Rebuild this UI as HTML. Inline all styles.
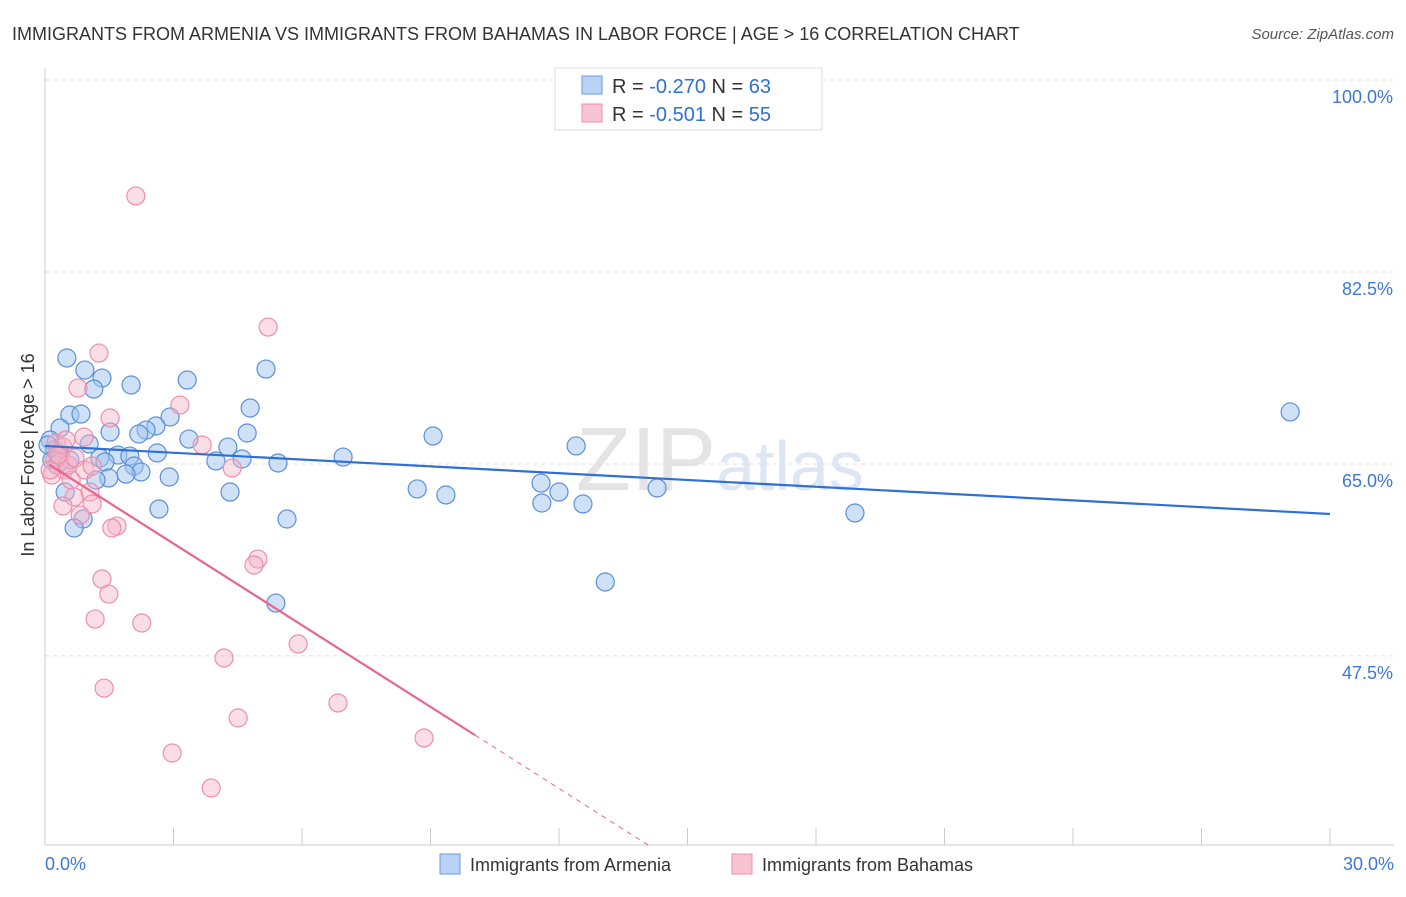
<!DOCTYPE html>
<html><head><meta charset="utf-8"><style>
body{margin:0;background:#fff;font-family:"Liberation Sans",sans-serif;}
svg text{font-family:"Liberation Sans",sans-serif;}
</style></head><body>
<svg id="chart" width="1406" height="892">
<text x="12" y="40" font-size="18" fill="#333">IMMIGRANTS FROM ARMENIA VS IMMIGRANTS FROM BAHAMAS IN LABOR FORCE | AGE &gt; 16 CORRELATION CHART</text>
<text x="1394" y="39" font-size="15" fill="#555" text-anchor="end" font-style="italic">Source: ZipAtlas.com</text>
<text x="720" y="490" font-size="90" fill="#e4e4e4" text-anchor="middle" font-family="Liberation Serif">ZIP<tspan fill="#dce6f4" font-family="Liberation Sans" font-size="70">atlas</tspan></text>
<g id="grid"></g>
<g id="axes"></g>
<g id="points"></g>
<g id="lines"></g>
<text transform="translate(34,455) rotate(-90)" font-size="18" fill="#333" text-anchor="middle">In Labor Force | Age &gt; 16</text>
<g>
<rect x="555" y="68" width="267" height="62" fill="#fff" stroke="#ddd"/>
<rect x="582" y="76" width="20" height="18" fill="#b8d3f5" stroke="#6a9be0"/>
<rect x="582" y="104" width="20" height="18" fill="#f8c4d3" stroke="#ec90ab"/>
<text x="612" y="93" font-size="20" fill="#333">R = <tspan fill="#2f6fd6">-0.270</tspan>   N = <tspan fill="#2f6fd6">63</tspan></text>
<text x="612" y="121" font-size="20" fill="#333">R = <tspan fill="#2f6fd6">-0.501</tspan>   N = <tspan fill="#2f6fd6">55</tspan></text>
</g>
<g>
<rect x="440" y="854" width="20" height="20" fill="#b8d3f5" stroke="#6a9be0"/>
<text x="470" y="871" font-size="18" fill="#333">Immigrants from Armenia</text>
<rect x="732" y="854" width="20" height="20" fill="#f8c4d3" stroke="#ec90ab"/>
<text x="762" y="871" font-size="18" fill="#333">Immigrants from Bahamas</text>
</g>
</svg>
<script>
const yTicks=[100,82.5,65,47.5];
const yTickLabels=["100.0%","82.5%","65.0%","47.5%"];
const xLabels=["0.0%","30.0%"];
const armeniaX=[0.51,0.93,1.33,1.14,2.01,3.32,5.16,0.58,0.84,0.35,4.79,2.92,2.59,2.36,2.19,1.52,3.36,4.27,4.72,1.03,1.28,1.70,1.98,2.62,3.99,4.60,5.44,6.96,9.06,12.40,1.40,2.08,2.24,1.89,2.90,1.49,1.19,0.47,4.32,8.69,9.36,11.58,12.00,11.60,12.56,14.29,18.91,29.07,2.66,0.89,5.65,0.68,13.08,5.39,0.12,0.23,0.16,0.35,0.07,0.28,0.58];
const armeniaY=[74.66,73.56,72.83,71.83,72.20,72.65,73.65,69.46,69.55,68.28,70.10,69.28,68.46,68.09,67.73,67.91,67.27,66.54,67.82,66.82,65.54,65.81,65.72,66.00,65.27,65.45,65.09,65.63,67.55,66.64,65.18,64.81,64.27,64.08,63.81,63.72,63.54,62.44,62.44,62.72,62.17,63.26,62.44,61.44,61.35,62.81,60.53,69.74,60.89,59.98,59.98,59.16,54.24,52.32,67.18,66.27,65.36,65.81,66.73,64.90,65.36];
const bahamasX=[2.12,5.21,1.26,0.77,3.15,1.52,3.67,4.37,0.26,0.42,0.91,0.44,0.16,0.61,1.05,0.68,1.10,0.42,0.82,1.68,1.56,1.33,1.49,1.17,2.26,4.97,4.88,4.18,5.91,1.38,4.51,6.84,2.97,8.85,3.88,0.23,0.35,0.54,0.12,0.30,0.70,0.93,0.49,1.10];
const bahamasY=[89.43,77.48,75.11,71.92,70.37,69.19,66.73,64.63,66.91,66.54,67.45,64.45,63.99,63.54,62.44,61.99,61.35,61.17,60.34,59.34,59.16,54.51,53.14,50.86,50.50,56.33,55.79,47.31,48.59,44.57,41.84,43.21,38.65,40.02,35.46,65.36,65.18,64.90,64.45,65.81,65.54,64.45,67.18,64.81];
const armeniaTrend=[66.64,60.44];
const bahamasTrend=[65.18,-2.48];
const xMax=30, yMin=30.26;
const NS="http://www.w3.org/2000/svg";
const sx=v=>45+v/xMax*1285;
const sy=v=>80+(100-v)*10.97;
function mk(tag,attrs,parent){const e=document.createElementNS(NS,tag);for(const k in attrs)e.setAttribute(k,attrs[k]);parent.appendChild(e);return e;}
const grid=document.getElementById('grid'),axes=document.getElementById('axes'),pts=document.getElementById('points'),lines=document.getElementById('lines');
yTicks.forEach((t,i)=>{
 const l=mk('line',{x1:45,x2:1394,y1:sy(t),y2:sy(t),stroke:'#ddd','stroke-dasharray':'4,4'},grid);
 
 
 const tx=mk('text',{x:1393,y:sy(t)+23,'font-size':18,fill:'#3b78d8','text-anchor':'end'},axes);
 tx.textContent=yTickLabels[i];
 
 
});
const ax=mk('line',{x1:45,x2:45,y1:68,y2:845,stroke:'#ccc'},axes);


const bx=mk('line',{x1:45,x2:1394,y1:845,y2:845,stroke:'#ccc'},axes);


for(let i=0;i<=10;i++){
 const t=mk('line',{x1:sx(i*3),x2:sx(i*3),y1:828,y2:845,stroke:'#ccc'},axes);
 
 
}
[[0,'start',45],[30,'end',1394]].forEach((d,i)=>{
 const t=mk('text',{x:d[2],y:870,'font-size':18,fill:'#3b78d8','text-anchor':d[1]},axes);
 t.textContent=xLabels[i];
 
 
});
armeniaX.forEach((x,i)=>{
 const c=mk('circle',{cx:sx(x),cy:sy(armeniaY[i]),r:9,fill:'rgba(160,196,240,0.5)',stroke:'#5b8fd8','stroke-width':1.2},pts);
 
 
});
bahamasX.forEach((x,i)=>{
 const c=mk('circle',{cx:sx(x),cy:sy(bahamasY[i]),r:9,fill:'rgba(246,180,200,0.45)',stroke:'#eb8fab','stroke-width':1.2},pts);
 
 
});
const ta=mk('line',{x1:sx(0),y1:sy(armeniaTrend[0]),x2:sx(30),y2:sy(armeniaTrend[1]),stroke:'#2f6fd6','stroke-width':2.2},lines);


const bEnd=10.04, bLim=(yMin-bahamasTrend[0])/bahamasTrend[1];
const tb=mk('line',{x1:sx(0.1),y1:sy(bahamasTrend[0]+0.1*bahamasTrend[1]),x2:sx(bEnd),y2:sy(bahamasTrend[0]+bEnd*bahamasTrend[1]),stroke:'#e8658f','stroke-width':2.2},lines);


const td=mk('line',{x1:sx(bEnd),y1:sy(bahamasTrend[0]+bEnd*bahamasTrend[1]),x2:sx(bLim),y2:sy(yMin),stroke:'#e8658f','stroke-width':1,'stroke-dasharray':'5,5'},lines);


</script>
</body></html>
